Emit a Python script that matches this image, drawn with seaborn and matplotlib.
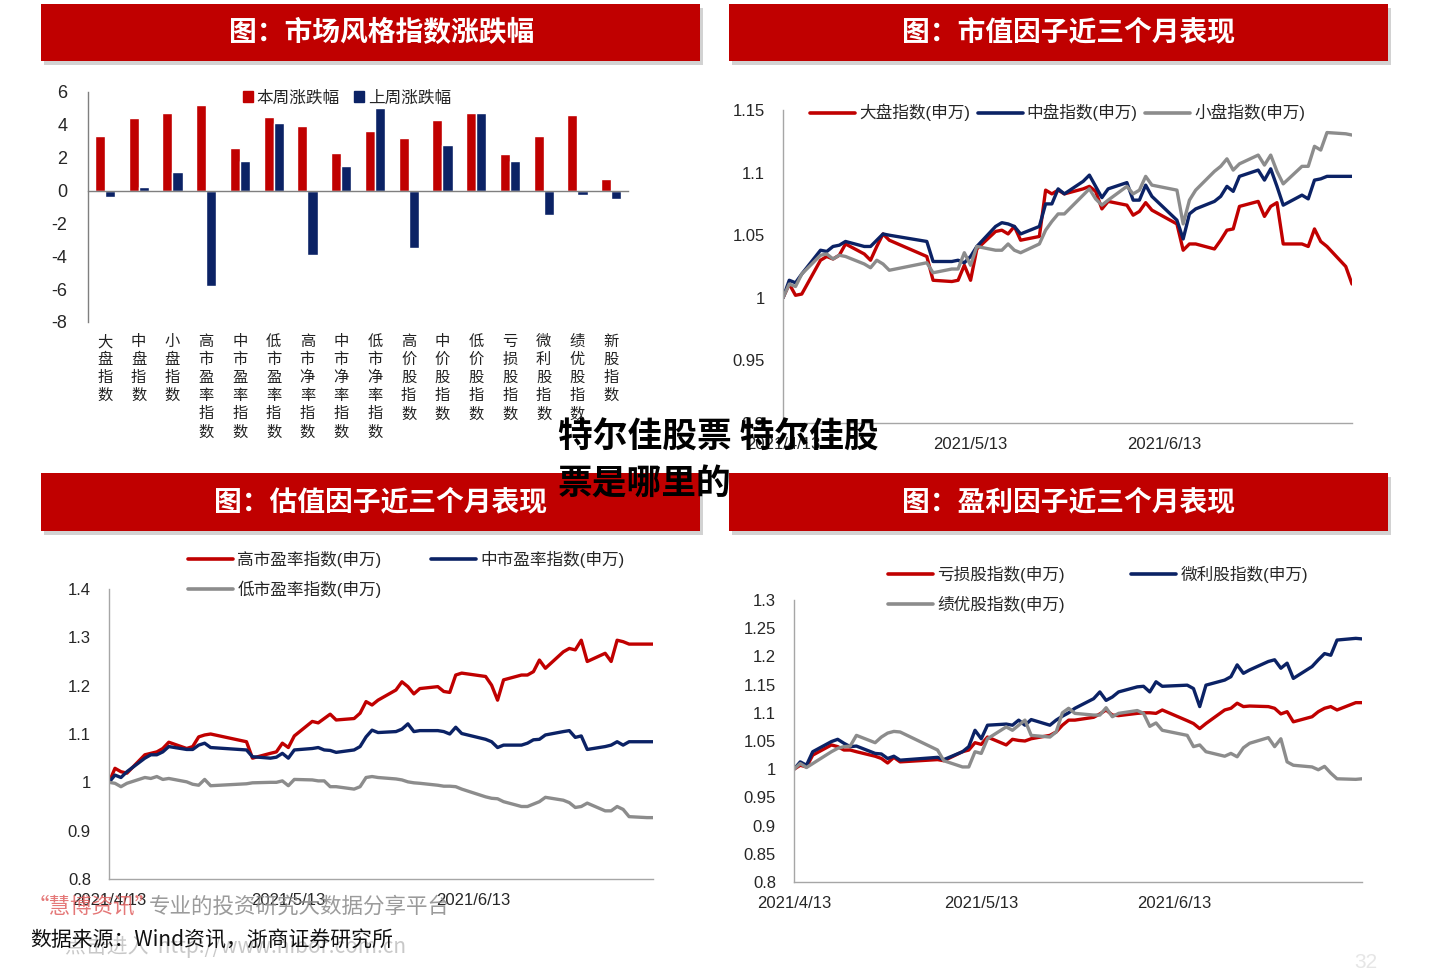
import matplotlib
matplotlib.use("Agg")
import matplotlib.pyplot as plt
import seaborn as sns
import pandas as pd
import numpy as np
from matplotlib.patches import Rectangle, Patch
from matplotlib.lines import Line2D

# ---------------- data ----------------
categories = ["大盘指数", "中盘指数", "小盘指数", "高市盈率指数", "中市盈率指数", "低市盈率指数",
              "高市净率指数", "中市净率指数", "低市净率指数", "高价股指数", "中价股指数", "低价股指数",
              "亏损股指数", "微利股指数", "绩优股指数", "新股指数"]
this_week = [3.3, 4.4, 4.7, 5.2, 2.6, 4.5, 3.9, 2.3, 3.6, 3.2, 4.3, 4.7, 2.2, 3.3, 4.6, 0.7]
last_week = [-0.4, 0.2, 1.1, -5.8, 1.8, 4.1, -3.9, 1.5, 5.0, -3.5, 2.8, 4.7, 1.8, -1.5, -0.3, -0.5]
bar_series = ["本周涨跌幅", "上周涨跌幅"]

trade_dates = [
    "2021-04-13", "2021-04-14", "2021-04-15", "2021-04-16", "2021-04-19", "2021-04-20", "2021-04-21",
    "2021-04-22", "2021-04-23", "2021-04-26", "2021-04-27", "2021-04-28", "2021-04-29", "2021-04-30",
    "2021-05-06", "2021-05-07", "2021-05-10", "2021-05-11", "2021-05-12", "2021-05-13", "2021-05-14",
    "2021-05-17", "2021-05-18", "2021-05-19", "2021-05-20", "2021-05-21", "2021-05-24", "2021-05-25",
    "2021-05-26", "2021-05-27", "2021-05-28", "2021-05-31",
    "2021-06-01", "2021-06-02", "2021-06-03", "2021-06-04", "2021-06-07", "2021-06-08", "2021-06-09",
    "2021-06-10", "2021-06-11", "2021-06-15", "2021-06-16", "2021-06-17", "2021-06-18", "2021-06-21",
    "2021-06-22", "2021-06-23", "2021-06-24", "2021-06-25", "2021-06-28", "2021-06-29", "2021-06-30",
    "2021-07-01", "2021-07-02", "2021-07-05", "2021-07-06", "2021-07-07", "2021-07-08", "2021-07-09",
    "2021-07-12", "2021-07-13"]

# 市值因子
large_cap = [1.000, 1.011, 1.002, 1.003, 1.030, 1.033, 1.031, 1.034, 1.043, 1.035, 1.030, 1.041, 1.051, 1.046,
             1.033, 1.014, 1.013, 1.014, 1.026, 1.014, 1.039, 1.053, 1.054, 1.051, 1.057, 1.046, 1.049, 1.086,
             1.083, 1.086, 1.083, 1.087,
             1.089, 1.085, 1.071, 1.077, 1.074, 1.066, 1.069, 1.076, 1.070, 1.059, 1.038, 1.043, 1.043, 1.039,
             1.046, 1.054, 1.055, 1.073, 1.077, 1.065, 1.073,
             1.076, 1.043, 1.043, 1.041, 1.055, 1.045, 1.041, 1.025, 1.011]
mid_cap = [1.000, 1.014, 1.012, 1.019, 1.038, 1.037, 1.041, 1.042, 1.045, 1.041, 1.041, 1.046, 1.051, 1.050,
           1.045, 1.029, 1.029, 1.030, 1.028, 1.033, 1.041, 1.057, 1.060, 1.059, 1.057, 1.051, 1.057, 1.075,
           1.075, 1.087, 1.083, 1.093,
           1.098, 1.089, 1.080, 1.087, 1.092, 1.078, 1.078, 1.090, 1.081, 1.062, 1.047, 1.067, 1.071, 1.077,
           1.081, 1.089, 1.085, 1.097, 1.102, 1.094, 1.103,
           1.089, 1.074, 1.082, 1.079, 1.094, 1.095, 1.097, 1.097, 1.097]
small_cap = [1.000, 1.011, 1.009, 1.019, 1.034, 1.035, 1.031, 1.034, 1.033, 1.027, 1.024, 1.030, 1.027, 1.022,
             1.028, 1.020, 1.023, 1.023, 1.036, 1.026, 1.041, 1.038, 1.038, 1.043, 1.038, 1.036, 1.043, 1.054,
             1.061, 1.067, 1.067, 1.082,
             1.087, 1.079, 1.074, 1.078, 1.089, 1.083, 1.086, 1.097, 1.090, 1.086, 1.059, 1.078, 1.086, 1.101,
             1.105, 1.111, 1.102, 1.107, 1.114, 1.106, 1.114,
             1.101, 1.091, 1.105, 1.105, 1.121, 1.118, 1.132, 1.131, 1.130]
size_names = ["大盘指数(申万)", "中盘指数(申万)", "小盘指数(申万)"]

# 估值因子
high_pe = [1.000, 1.029, 1.022, 1.019, 1.057, 1.060, 1.063, 1.070, 1.083, 1.070, 1.074, 1.094, 1.098, 1.100,
           1.084, 1.050, 1.060, 1.063, 1.081, 1.072, 1.096, 1.126, 1.123, 1.132, 1.141, 1.129, 1.132, 1.143,
           1.167, 1.160, 1.170, 1.191,
           1.208, 1.198, 1.183, 1.194, 1.198, 1.188, 1.186, 1.222, 1.226, 1.219, 1.201, 1.170, 1.212, 1.222,
           1.222, 1.229, 1.253, 1.236, 1.270, 1.277, 1.274,
           1.294, 1.250, 1.267, 1.250, 1.294, 1.291, 1.286, 1.286, 1.286]
mid_pe = [1.000, 1.015, 1.010, 1.022, 1.050, 1.057, 1.057, 1.063, 1.074, 1.068, 1.068, 1.077, 1.081, 1.072,
          1.067, 1.053, 1.050, 1.052, 1.060, 1.050, 1.067, 1.070, 1.072, 1.067, 1.066, 1.062, 1.067, 1.074,
          1.094, 1.108, 1.103, 1.105,
          1.110, 1.121, 1.105, 1.107, 1.107, 1.105, 1.100, 1.114, 1.101, 1.089, 1.084, 1.072, 1.077, 1.077,
          1.081, 1.088, 1.089, 1.098, 1.105, 1.107, 1.093,
          1.096, 1.068, 1.074, 1.077, 1.084, 1.077, 1.084, 1.084, 1.084]
low_pe = [1.000, 0.998, 0.991, 0.998, 1.010, 1.008, 1.012, 1.006, 1.008, 1.001, 0.996, 0.994, 1.006, 0.993,
          0.997, 0.999, 1.000, 1.000, 1.003, 0.993, 1.006, 1.005, 1.003, 1.003, 0.991, 0.991, 0.986, 0.991,
          1.010, 1.012, 1.010, 1.007,
          1.005, 1.001, 0.999, 0.998, 0.994, 0.992, 0.992, 0.991, 0.986, 0.970, 0.967, 0.966, 0.960, 0.950,
          0.950, 0.955, 0.960, 0.969, 0.963, 0.958, 0.948,
          0.950, 0.957, 0.941, 0.941, 0.950, 0.944, 0.929, 0.927, 0.927]
pe_names = ["高市盈率指数(申万)", "中市盈率指数(申万)", "低市盈率指数(申万)"]

# 盈利因子
loss_idx = [1.000, 1.007, 1.004, 1.025, 1.043, 1.040, 1.034, 1.034, 1.031, 1.023, 1.019, 1.011, 1.021, 1.013,
            1.017, 1.015, 1.031, 1.034, 1.047, 1.044, 1.057, 1.043, 1.053, 1.051, 1.050, 1.054, 1.060, 1.066,
            1.078, 1.087, 1.087, 1.092,
            1.098, 1.105, 1.096, 1.095, 1.099, 1.100, 1.100, 1.099, 1.105, 1.086, 1.081, 1.072, 1.081, 1.105,
            1.108, 1.117, 1.111, 1.112, 1.111, 1.108, 1.098,
            1.102, 1.084, 1.093, 1.102, 1.108, 1.111, 1.105, 1.118, 1.118]
thin_profit = [1.000, 1.013, 1.007, 1.031, 1.049, 1.053, 1.046, 1.040, 1.041, 1.028, 1.027, 1.019, 1.023, 1.016,
               1.021, 1.017, 1.031, 1.040, 1.069, 1.054, 1.078, 1.080, 1.078, 1.087, 1.078, 1.088, 1.078, 1.087,
               1.094, 1.100, 1.108, 1.125,
               1.137, 1.122, 1.128, 1.137, 1.146, 1.147, 1.137, 1.155, 1.147, 1.149, 1.143, 1.111, 1.149, 1.158,
               1.164, 1.185, 1.170, 1.176, 1.191, 1.194, 1.179,
               1.188, 1.161, 1.182, 1.194, 1.205, 1.202, 1.229, 1.232, 1.231]
top_perf = [1.000, 1.010, 1.003, 1.010, 1.031, 1.037, 1.040, 1.041, 1.060, 1.047, 1.057, 1.064, 1.067, 1.066,
            1.034, 1.015, 1.004, 1.004, 1.031, 1.028, 1.054, 1.075, 1.069, 1.078, 1.087, 1.060, 1.057, 1.066,
            1.100, 1.108, 1.099, 1.096,
            1.096, 1.109, 1.093, 1.099, 1.104, 1.099, 1.076, 1.082, 1.069, 1.060, 1.040, 1.043, 1.031, 1.023,
            1.028, 1.022, 1.038, 1.046, 1.056, 1.040, 1.054,
            1.013, 1.007, 1.004, 0.999, 1.005, 0.993, 0.983, 0.982, 0.983]
profit_names = ["亏损股指数(申万)", "微利股指数(申万)", "绩优股指数(申万)"]

date_ticks = ["2021-04-13", "2021-05-13", "2021-06-13", "2021-07-13"]
date_tick_labels = ["2021/4/13", "2021/5/13", "2021/6/13", ""]

titles = ["图：市场风格指数涨跌幅", "图：市值因子近三个月表现", "图：估值因子近三个月表现", "图：盈利因子近三个月表现"]

RED = "#C00000"
NAVY = "#0B2265"
GRAY = "#8C8C8C"
SPINE = "#A6A6A6"

# ---------------- style ----------------
sns.set_style("white")
plt.rcParams["font.family"] = ["Liberation Sans", "Noto Sans CJK SC", "DejaVu Sans"]
plt.rcParams["axes.unicode_minus"] = False

W, H = 1440, 974
fig = plt.figure(figsize=(W / 100, H / 100), dpi=100)


def frect(x0, y0, x1, y1):
    return [x0 / W, 1 - y1 / H, (x1 - x0) / W, (y1 - y0) / H]


def banner(x0, y0, x1, y1, text, tx):
    fig.patches.append(Rectangle(((x0 + 3) / W, 1 - (y1 + 4) / H), (x1 - x0) / W, (y1 - y0) / H,
                                 transform=fig.transFigure, facecolor="#808080", alpha=0.35,
                                 edgecolor="none", zorder=1))
    fig.patches.append(Rectangle((x0 / W, 1 - y1 / H), (x1 - x0) / W, (y1 - y0) / H,
                                 transform=fig.transFigure, facecolor=RED, edgecolor="none", zorder=1.1))
    fig.text(tx / W, 1 - (y0 + y1) / 2 / H, text, color="white", fontsize=20, fontweight="bold",
             ha="center", va="center", zorder=2, family=["Noto Sans CJK SC", "DejaVu Sans"])


banner(41, 4, 700, 61, titles[0], 382)
banner(729, 4, 1388, 61, titles[1], 1069)
banner(41, 473, 700, 531, titles[2], 381)
banner(729, 473, 1388, 531, titles[3], 1069)

# ---------------- chart 1: bars ----------------
ax1 = fig.add_axes(frect(88, 92, 628, 322))
dfb = pd.DataFrame({
    "cat": categories * 2,
    "series": [bar_series[0]] * len(categories) + [bar_series[1]] * len(categories),
    "val": this_week + last_week,
})
sns.barplot(data=dfb, x="cat", y="val", hue="series", order=categories, hue_order=bar_series,
            palette=[RED, NAVY], width=0.6, saturation=1, errorbar=None, legend=False, ax=ax1)
ax1.set_ylim(-8, 6)
ax1.set_xlim(-0.5, len(categories) - 0.5)
ax1.set_yticks(range(-8, 7, 2))
ax1.set_yticklabels([str(v) for v in range(-8, 7, 2)])
ax1.set_xticks(np.arange(-0.5, len(categories), 1))
ax1.set_xticklabels([])
ax1.set_xlabel("")
ax1.set_ylabel("")
for s in ["top", "right"]:
    ax1.spines[s].set_visible(False)
ax1.spines["bottom"].set_position(("data", 0))
for s in ["bottom", "left"]:
    ax1.spines[s].set_color("#7F7F7F")
    ax1.spines[s].set_linewidth(1.0)
ax1.tick_params(axis="y", direction="out", length=5, color="#7F7F7F", labelsize=13, pad=10)
ax1.tick_params(axis="x", direction="out", length=5, color="#7F7F7F")
ax1.set_facecolor("none")
for i, name in enumerate(categories):
    ax1.annotate("\n".join(name), xy=(i, -8), xycoords="data", xytext=(0, -8),
                 textcoords="offset points", ha="center", va="top", fontsize=11,
                 linespacing=1.08, color="#222222", family=["Noto Sans CJK SC", "DejaVu Sans"])
ax1.legend(handles=[Patch(color=RED), Patch(color=NAVY)], labels=bar_series, ncol=2,
           loc="center left", bbox_to_anchor=(243 / W, 1 - 98 / H), bbox_transform=fig.transFigure,
           frameon=False, fontsize=12, handlelength=0.6, handleheight=0.6, handletextpad=0.2,
           columnspacing=0.9, borderpad=0, borderaxespad=0)


# ---------------- line charts ----------------
def line_chart(box, series, names, colors, ylim, yticks, ylabels, legend_order, legend_anchor,
               ncol, colspace):
    ax = fig.add_axes(frect(*box))
    dates = pd.to_datetime(trade_dates)
    df = pd.DataFrame({
        "date": np.concatenate([dates] * len(series)),
        "val": np.concatenate(series),
        "name": np.repeat(names, len(trade_dates)),
    })
    sns.lineplot(data=df, x="date", y="val", hue="name", hue_order=names, palette=colors,
                 linewidth=2.4, legend=False, ax=ax)
    ax.set_xlim(dates[0], dates[-1])
    ax.set_ylim(*ylim)
    ax.set_yticks(yticks)
    ax.set_yticklabels(ylabels)
    ax.set_xticks(pd.to_datetime(date_ticks))
    ax.set_xticklabels(date_tick_labels)
    ax.set_xlabel("")
    ax.set_ylabel("")
    for s in ["top", "right"]:
        ax.spines[s].set_visible(False)
    for s in ["bottom", "left"]:
        ax.spines[s].set_color(SPINE)
        ax.spines[s].set_linewidth(1.0)
    ax.tick_params(axis="y", direction="in", length=5, color=SPINE, labelsize=12, pad=13)
    ax.tick_params(axis="x", direction="in", length=5, color=SPINE, labelsize=12, pad=10)
    ax.set_facecolor("none")
    handles = [Line2D([0], [0], color=colors[k], lw=2.6) for k in legend_order]
    labels = [names[k] for k in legend_order]
    ax.legend(handles=handles, labels=labels, ncol=ncol, loc="upper left",
              bbox_to_anchor=legend_anchor, bbox_transform=fig.transFigure, frameon=False,
              fontsize=12, handlelength=2.7, handletextpad=0.25, columnspacing=colspace,
              labelspacing=0.75, borderpad=0, borderaxespad=0)
    return ax


ax2 = line_chart((783, 110, 1352, 423), [large_cap, mid_cap, small_cap], size_names, [RED, NAVY, GRAY],
                 (0.9, 1.15), [0.9, 0.95, 1.0, 1.05, 1.1, 1.15], ["0.9", "0.95", "1", "1.05", "1.1", "1.15"],
                 [0, 1, 2], (810 / W, 1 - 104 / H), 3, 0.45)
ax3 = line_chart((109, 589, 653, 879), [high_pe, mid_pe, low_pe], pe_names, [RED, NAVY, GRAY],
                 (0.8, 1.4), [0.8, 0.9, 1.0, 1.1, 1.2, 1.3, 1.4], ["0.8", "0.9", "1", "1.1", "1.2", "1.3", "1.4"],
                 [0, 2, 1], (188 / W, 1 - 551 / H), 2, 3.0)
ax4 = line_chart((794, 600, 1362, 882), [loss_idx, thin_profit, top_perf], profit_names, [RED, NAVY, GRAY],
                 (0.8, 1.3), [0.8, 0.85, 0.9, 0.95, 1.0, 1.05, 1.1, 1.15, 1.2, 1.25, 1.3],
                 ["0.8", "0.85", "0.9", "0.95", "1", "1.05", "1.1", "1.15", "1.2", "1.25", "1.3"],
                 [0, 2, 1], (888 / W, 1 - 566 / H), 2, 4.0)

# ---------------- overlays / footer ----------------
cjk = ["Noto Sans CJK SC", "DejaVu Sans"]
fig.text(28 / W, 1 - 907 / H, "“慧博资讯”", color="#E06060", alpha=0.85, fontsize=15.5,
         ha="left", va="center", family=cjk, zorder=5)
fig.text(149 / W, 1 - 907 / H, "专业的投资研究大数据分享平台", color="#8A8A8A", alpha=0.85, fontsize=15.5,
         ha="left", va="center", family=cjk, zorder=5)
fig.text(65 / W, 1 - 947 / H, "点击进入  http://www.hibor.com.cn", color="#BBBBBB", alpha=0.8,
         fontsize=15, ha="left", va="center", family=cjk, zorder=4)
fig.text(30 / W, 1 - 941 / H, "数据来源：Wind资讯，浙商证券研究所", color="#111111", fontsize=15,
         ha="left", va="center", family=cjk, zorder=6)
fig.text(1366 / W, 1 - 962 / H, "32", color="#E6E6E6", fontsize=15, ha="center", va="center", zorder=4)

fig.text(558 / W, 1 - 437 / H, "特尔佳股票 特尔佳股", color="black", fontsize=25, fontweight="heavy",
         ha="left", va="center", family=cjk, zorder=10)
fig.text(558 / W, 1 - 484 / H, "票是哪里的", color="black", fontsize=25, fontweight="heavy",
         ha="left", va="center", family=cjk, zorder=10)

fig.savefig("out.png", dpi=100, facecolor="white")
